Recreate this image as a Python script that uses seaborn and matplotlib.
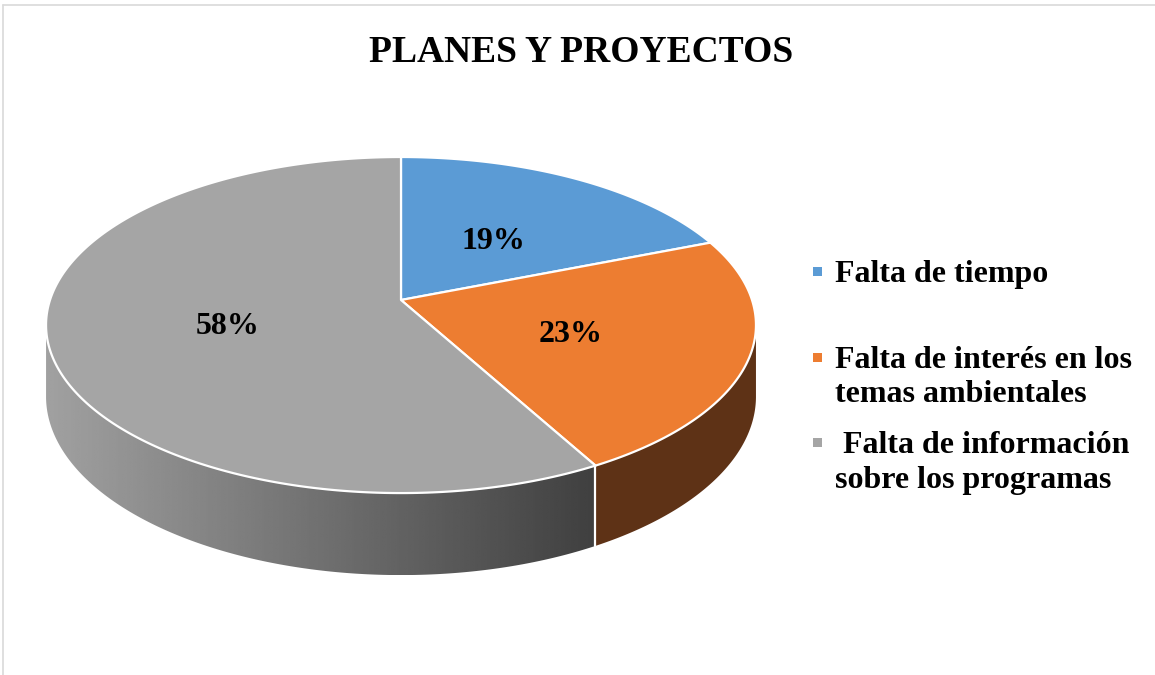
"""
3D-style pie chart: PLANES Y PROYECTOS.

Saves out.png (1155x675).
"""
import matplotlib

matplotlib.use("Agg")
import matplotlib.pyplot as plt
import numpy as np
import seaborn as sns
from matplotlib.lines import Line2D
from matplotlib.patches import Polygon, Rectangle

# ---- Data ------------------------------------------------------------------ #
title = "PLANES Y PROYECTOS"
categories = [
    "Falta de tiempo",
    "Falta de interés en los\ntemas ambientales",
    " Falta de información\nsobre los programas",
]
shares = [19, 23, 58]
top_colors = ["#5B9BD5", "#ED7D31", "#A5A5A5"]
side_colors = ["#2F5F8F", "#5E3216", None]  # None -> grey gradient

# ---- Layout (pixel space, y grows downward) -------------------------------- #
CX, CY = 401, 300        # pie centre on screen
RX, RY = 351, 164.3      # projected radii
PERSP = 0.149            # perspective strength
DEPTH = 69.8             # thickness of the disc
START = 90.0             # first slice starts at 12 o'clock, goes clockwise


def project(t, r=1.0):
    """Project point on the top face (angle t in degrees, radius r)."""
    rad = np.deg2rad(t)
    x, y = r * np.cos(rad), r * np.sin(rad)
    w = 1 + PERSP * y
    return CX + RX * x / w, CY - RY * y / w


def thickness(t):
    return DEPTH / (1 + PERSP * np.sin(np.deg2rad(t)))


sns.set_style("white")
plt.rcParams["font.family"] = ["Liberation Serif", "DejaVu Serif"]

fig = plt.figure(figsize=(11.55, 6.75), dpi=100)
ax = fig.add_axes([0, 0, 1, 1])

total = float(sum(shares))
cum = np.concatenate([[0], np.cumsum(shares)]) / total
bounds = START - 360 * cum  # decreasing angles

# ---- Side walls (front only) -------------------------------------------- #
for i in range(len(shares)):
    a0, a1 = bounds[i], bounds[i + 1]
    t = np.linspace(a1, a0, 400)
    vis = np.sin(np.deg2rad(t)) <= -PERSP
    if not vis.any():
        continue
    t = t[vis]
    xt, yt = project(t)
    yb = yt + thickness(t)
    verts = np.column_stack([np.r_[xt, xt[::-1]], np.r_[yt, yb[::-1]]])
    if side_colors[i] is None:
        clip = Polygon(verts, closed=True, facecolor="none", edgecolor="none")
        ax.add_patch(clip)
        grad = np.linspace(0.63, 0.25, 256).reshape(1, -1)
        im = ax.imshow(
            grad, cmap="gray", vmin=0, vmax=1, aspect="auto",
            extent=(verts[:, 0].min(), verts[:, 0].max(),
                    verts[:, 1].max(), verts[:, 1].min()),
            interpolation="bilinear", zorder=1,
        )
        im.set_clip_path(clip)
    else:
        ax.add_patch(Polygon(verts, closed=True, facecolor=side_colors[i],
                             edgecolor="none", zorder=1))

# white seams between side walls
for b in bounds[1:-1]:
    if np.sin(np.deg2rad(b)) <= -PERSP:
        x0, y0 = project(b)
        ax.plot([x0, x0], [y0, y0 + thickness(b)], color="white", lw=1.6, zorder=2)

# ---- Top face ------------------------------------------------------------ #
for i in range(len(shares)):
    t = np.linspace(bounds[i], bounds[i + 1], 300)
    xt, yt = project(t)
    verts = np.column_stack([np.r_[CX, xt], np.r_[CY, yt]])
    ax.add_patch(Polygon(verts, closed=True, facecolor=top_colors[i],
                         edgecolor="white", lw=1.6, joinstyle="round", zorder=3))

# ---- Percentage labels ------------------------------------------------------ #
for i, s in enumerate(shares):
    mid = (bounds[i] + bounds[i + 1]) / 2
    lx, ly = project(mid, r=0.5)
    ax.text(lx, ly + 6, f"{s / total:.0%}", ha="center", va="center",
            fontsize=23, fontweight="bold", color="black", zorder=4)

# ---- Title ------------------------------------------------------------------ #
ax.text(581, 52, title, ha="center", va="center", fontsize=27,
        fontweight="bold", color="black")

# ---- Legend (drawn by hand so the marker sits on the first line) ------------ #
LEG_X, LEG_Y0, LEG_STEP, LINE_STEP = 835, 282, 85.5, 35
for i, label in enumerate(categories):
    base = LEG_Y0 + LEG_STEP * i
    ax.add_patch(Rectangle((813, base - 15), 9, 9, facecolor=top_colors[i],
                           edgecolor="none"))
    for j, line in enumerate(label.split("\n")):
        ax.text(LEG_X, base + LINE_STEP * j, line, ha="left", va="baseline",
                fontsize=23, fontweight="bold", color="black")

# chart frame (only left and top edges fall inside the image)
ax.add_line(Line2D([3, 3], [5, 675], color="#D9D9D9", lw=1.2))
ax.add_line(Line2D([3, 1155], [5, 5], color="#D9D9D9", lw=1.2))

ax.set_xlim(0, 1155)
ax.set_ylim(675, 0)
ax.axis("off")

fig.savefig("out.png", dpi=100, facecolor="white")
plt.close(fig)
